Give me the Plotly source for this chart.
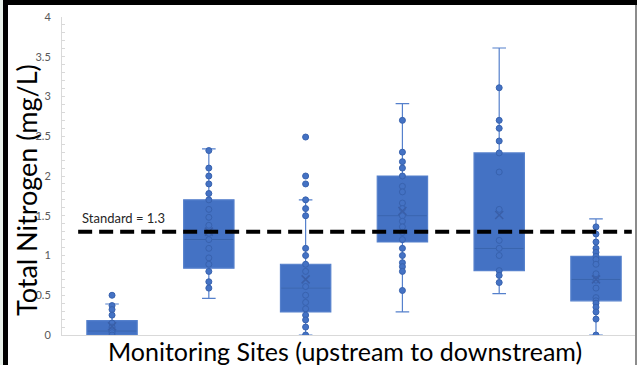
import plotly.graph_objects as go

# ---------------- data ----------------
sites = ["Site 1", "Site 2", "Site 3", "Site 4", "Site 5", "Site 6"]

q1 = [0.0, 0.84, 0.29, 1.17, 0.81, 0.43]
median = [0.05, 1.20, 0.59, 1.50, 1.09, 0.70]
q3 = [0.18, 1.70, 0.89, 2.00, 2.29, 0.99]
lower_whisker = [0.0, 0.46, 0.0, 0.29, 0.52, 0.0]
upper_whisker = [0.39, 2.34, 1.70, 2.91, 3.61, 1.46]
mean_vals = [0.11, 1.30, 0.70, 1.56, 1.51, 0.70]

site1_vals = [0.50, 0.37, 0.32, 0.25, 0.15, 0.10, 0.05, 0.03, 0.0]
site2_vals = [2.32, 2.10, 2.00, 1.90, 1.78, 1.70, 1.58, 1.48, 1.38, 1.28,
              1.20, 1.09, 0.97, 0.89, 0.80, 0.67, 0.59]
site3_vals = [2.49, 2.00, 1.90, 1.70, 1.59, 1.50, 1.09, 1.00, 0.89, 0.80,
              0.61, 0.50, 0.41, 0.33, 0.25, 0.19, 0.10, 0.0]
site4_vals = [2.70, 2.30, 2.18, 2.10, 2.00, 1.87, 1.80, 1.66, 1.59, 1.50,
              1.43, 1.36, 1.29, 1.20, 1.09, 1.00, 0.91, 0.86, 0.80, 0.56]
site5_vals = [3.11, 2.70, 2.60, 2.44, 2.29, 2.05, 1.58, 1.19, 1.09, 1.00,
              0.81, 0.75, 0.66]
site6_vals = [1.36, 1.27, 1.17, 1.09, 1.04, 0.99, 0.95, 0.89, 0.77, 0.69,
              0.59, 0.47, 0.43, 0.40, 0.35, 0.29, 0.20, 0.0]
all_site_vals = [site1_vals, site2_vals, site3_vals, site4_vals, site5_vals, site6_vals]

standard = 1.3
standard_label = "Standard = 1.3"
y_ticks = [0, 0.5, 1, 1.5, 2, 2.5, 3, 3.5, 4]
y_tick_text = ["0", "0.5", "1", "1.5", "2", "2.5", "3", "3.5", "4"]

# ---------------- layout geometry (pixels) ----------------
W, H = 637, 365
PLOT_L, PLOT_R, PLOT_T, PLOT_B = 62, 635, 17, 335


def px_x(p):
    return p / W


def px_y(p):
    return (H - p) / H


BLUE = "#4472C4"

fig = go.Figure()

fig.add_trace(go.Box(
    x=sites, q1=q1, median=median, q3=q3,
    lowerfence=lower_whisker, upperfence=upper_whisker,
    boxpoints=False, fillcolor=BLUE,
    line=dict(color="#5580cc", width=1.2),
    whiskerwidth=0.27, width=0.52, showlegend=False, hoverinfo="skip",
))

# slightly darker median lines
fig.add_trace(go.Scatter(
    x=sites, y=median, mode="markers",
    marker=dict(symbol="line-ew-open", size=35, color="#3560ab",
                line=dict(color="#3560ab", width=1)),
    showlegend=False, hoverinfo="skip",
))

px_list, py_list = [], []
for s, vals in zip(sites, all_site_vals):
    px_list += [s] * len(vals)
    py_list += vals

fig.add_trace(go.Scatter(
    x=px_list, y=py_list, mode="markers",
    marker=dict(size=6, color=BLUE, line=dict(color="#3862ae", width=1)),
    showlegend=False, hoverinfo="skip",
))

fig.add_trace(go.Scatter(
    x=sites, y=mean_vals, mode="markers",
    marker=dict(symbol="x-thin-open", size=8, color="#3a5fa8",
                line=dict(color="#3a5fa8", width=1.5)),
    showlegend=False, hoverinfo="skip",
))

# standard line
fig.add_shape(type="line", xref="x", yref="y", x0=-0.35, x1=5.37,
              y0=standard, y1=standard, layer="above",
              line=dict(color="black", width=4, dash="14px,7px"))

fig.add_annotation(xref="x", yref="y", x=0.12, y=standard, yanchor="bottom",
                   yshift=4, text=standard_label, showarrow=False,
                   font=dict(family="Lato", size=13, color="#262626"))

# axis titles
fig.add_annotation(xref="paper", yref="paper", x=px_x(26), y=px_y(190),
                   text="Total Nitrogen (mg/L)", textangle=-90, showarrow=False,
                   xanchor="center", yanchor="middle",
                   font=dict(family="Lato", size=27, color="black"))
fig.add_annotation(xref="paper", yref="paper", x=px_x(345), y=px_y(334),
                   text="Monitoring Sites (upstream to downstream)", showarrow=False,
                   xanchor="center", yanchor="top",
                   font=dict(family="Lato", size=25, color="black"))

# frame decoration, drawn in a full-figure pixel space (x2 / y2)
frame = dict(xref="x2", yref="y2", line_width=0, layer="above", type="rect")
fig.add_shape(x0=0, x1=3, y0=0, y1=H, fillcolor="#e8f0ea", **frame)
fig.add_shape(x0=3, x1=8, y0=0, y1=H, fillcolor="black", **frame)
fig.add_shape(x0=3, x1=W, y0=0, y1=5, fillcolor="black", **frame)
fig.add_shape(x0=635, x1=W, y0=5, y1=H, fillcolor="#8c8c8c", **frame)

fig.update_layout(
    width=W, height=H, margin=dict(l=0, r=0, t=0, b=0, pad=0),
    paper_bgcolor="white", plot_bgcolor="rgba(0,0,0,0)",
    font=dict(family="Lato"),
    xaxis=dict(type="category", range=[-0.517, 5.403], showticklabels=False,
               domain=[px_x(PLOT_L), px_x(PLOT_R)], automargin=False,
               showgrid=False, zeroline=False, showline=True,
               linecolor="#d9d9d9", linewidth=1, ticks=""),
    yaxis=dict(range=[0, 4], tickvals=y_ticks, ticktext=y_tick_text,
               domain=[px_y(PLOT_B), px_y(PLOT_T)], automargin=False,
               showgrid=False, zeroline=False, showline=True,
               linecolor="#d9d9d9", linewidth=1,
               ticks="inside", ticklen=3, tickcolor="#d9d9d9",
               minor=dict(dtick=0.1, ticks="inside", ticklen=3, tickcolor="#d9d9d9"),
               tickfont=dict(family="Lato", size=11, color="#595959"),
               ticklabelstandoff=8),
    xaxis2=dict(domain=[0, 1], range=[0, W], anchor="y2", visible=False,
                fixedrange=True, automargin=False),
    yaxis2=dict(domain=[0, 1], range=[H, 0], anchor="x2", visible=False,
                fixedrange=True, automargin=False),
)

fig.write_html("out.html",
               config={"displayModeBar": False},
               post_script="document.body.style.margin='0';document.body.style.overflow='hidden';")
